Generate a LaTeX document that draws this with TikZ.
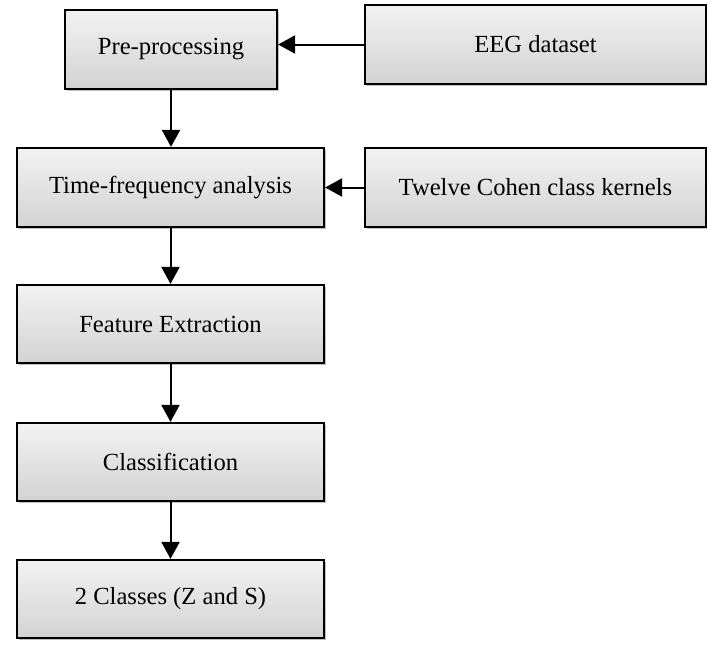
\documentclass[tikz,border=0pt]{standalone}
\usepackage{fontspec}
\setmainfont{Liberation Serif}
\usetikzlibrary{arrows.meta,shadows}
\begin{document}
\begin{tikzpicture}[x=0.5pt,y=-0.5pt,
  stepbox/.style={draw=black,line width=1.1pt,inner sep=0pt,
    top color=gray!10,bottom color=gray!35,
    drop shadow={shadow xshift=0.8pt,shadow yshift=-0.8pt,opacity=0.25,fill=black},
    font=\fontsize{12.3pt}{14pt}\selectfont},
  flow/.style={line width=1pt,-{Triangle[width=9pt,length=8.5pt]}}]
\useasboundingbox (0,0) rectangle (707,644);
\node[stepbox,minimum width=106pt,minimum height=39.5pt] (pre) at (171,49.5) {Pre-processing};
\node[stepbox,minimum width=170.5pt,minimum height=39.5pt] (eeg) at (535.5,44.5) {EEG dataset};
\node[stepbox,minimum width=153.5pt,minimum height=39.5pt] (tfa) at (170.5,187.5) {Time-frequency analysis};
\node[stepbox,minimum width=170.5pt,minimum height=39.5pt] (ker) at (535.5,187.5) {Twelve Cohen class kernels};
\node[stepbox,minimum width=153.5pt,minimum height=39pt] (fe) at (170.5,324) {Feature Extraction};
\node[stepbox,minimum width=153.5pt,minimum height=39pt] (cls) at (170.5,462) {Classification};
\node[stepbox,minimum width=153.5pt,minimum height=39pt] (out) at (170.5,599) {2 Classes (Z and S)};
\draw[flow] (eeg.west) -- (eeg.west -| pre.east);
\draw[flow] (ker.west) -- (tfa.east);
\draw[flow] (pre.south) -- (pre.south |- tfa.north);
\draw[flow] (tfa.south) -- (fe.north);
\draw[flow] (fe.south) -- (cls.north);
\draw[flow] (cls.south) -- (out.north);
\end{tikzpicture}
\end{document}
